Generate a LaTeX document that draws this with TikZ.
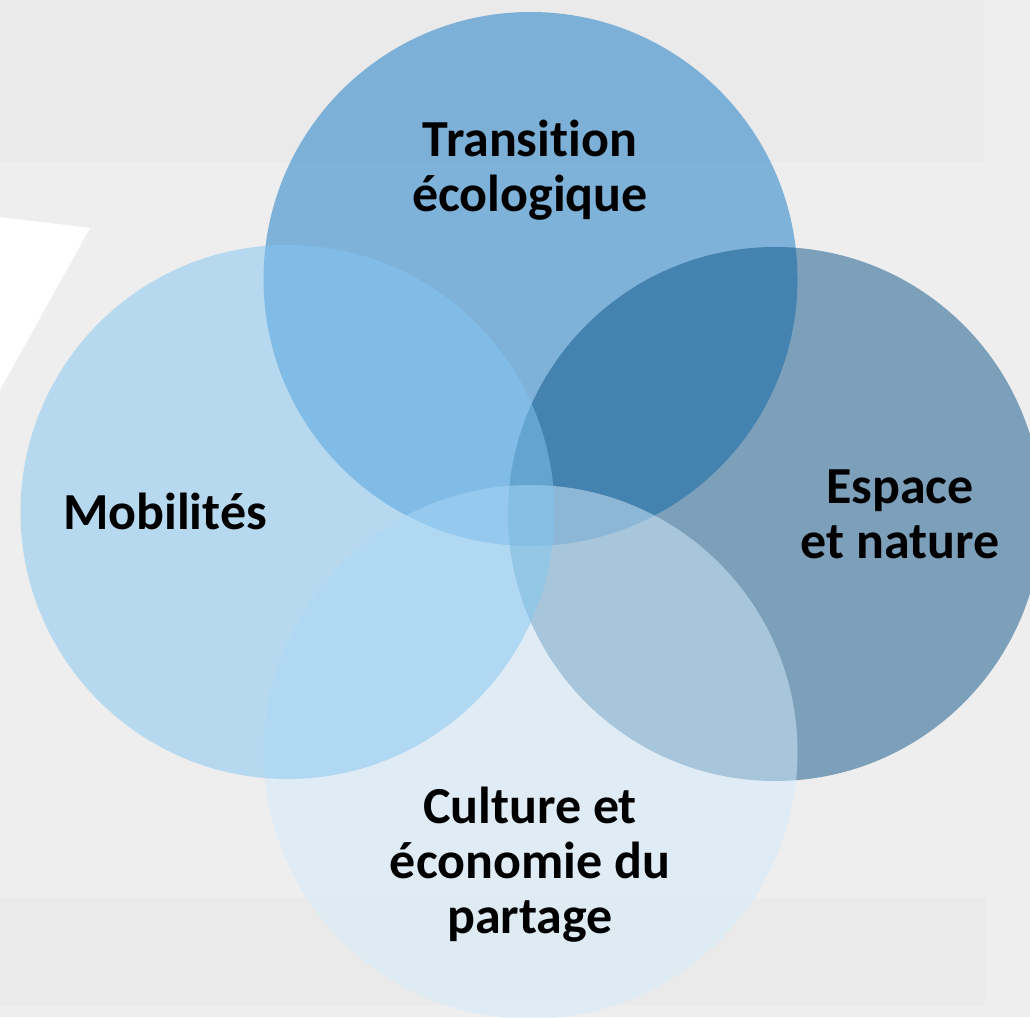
\documentclass[tikz,border=0pt]{standalone}
\usepackage{fontspec}
\setmainfont{Carlito}[Ligatures=NoCommon]
\definecolor{bgcol}{HTML}{EEEEEE}
\definecolor{bandcol}{HTML}{EAEAEA}
\definecolor{tcol}{HTML}{1078C6}
\definecolor{mcol}{HTML}{82C6F2}
\definecolor{ecol}{HTML}{0C5488}
\definecolor{ccol}{HTML}{D4ECFC}
\tikzset{
  venn/.style={circle, minimum size=534pt, inner sep=0pt, outer sep=0pt, draw=none, fill opacity=0.5},
  lbl/.style={align=center, text=black, font=\fontsize{52}{55}\selectfont\bfseries, inner sep=0pt}
}
\begin{document}
\begin{tikzpicture}[x=1pt,y=-1pt]
\useasboundingbox (0,0) rectangle (1030,1017);
% background
\fill[bgcol] (0,0) rectangle (1030,1017);
\fill[bandcol] (0,0) rectangle (984,162);
\fill[bandcol] (0,898) rectangle (985,1005);
\fill[white] (0,217) -- (90,228) -- (0,390) -- cycle;
% circles
\node[venn, fill=tcol] (t) at (530.5,279) {};
\node[venn, fill=ecol] (e) at (775,514) {};
\node[venn, fill=ccol] (c) at (530.5,752) {};
\node[venn, fill=mcol] (m) at (287.5,512) {};
% labels
\node[lbl] (tl) at (530,170) {Transition\\écologique};
\node[lbl] (ml) at (165,511) {Mobilités};
\node[lbl] (el) at (900,514) {Espace\\et nature};
\node[lbl] (cl) at (530,865) {Culture et\\économie du\\partage};
\end{tikzpicture}
\end{document}
